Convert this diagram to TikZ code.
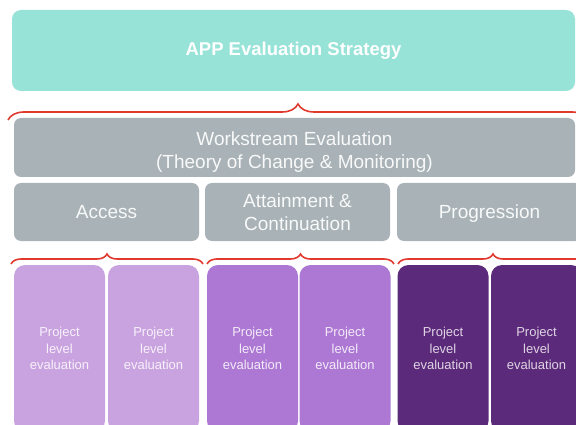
\documentclass[tikz,border=0pt]{standalone}
\usepackage{fontspec}
\setsansfont{Liberation Sans}
\usetikzlibrary{decorations.pathreplacing}

\definecolor{stratteal}{HTML}{98E3D7}
\definecolor{wsgray}{HTML}{A9B2B7}
\definecolor{lightplum}{HTML}{C9A3DF}
\definecolor{midplum}{HTML}{AC78D3}
\definecolor{darkplum}{HTML}{5C2A7A}
\definecolor{bracered}{HTML}{E2392E}

\begin{document}
\begin{tikzpicture}[x=1pt,y=-1pt,
                    every node/.style={inner sep=0pt,align=center,text=white},
                    strat box/.style={fill=stratteal,rounded corners=9pt,minimum width=563pt,minimum height=81pt,
                                      font=\sffamily\bfseries\fontsize{18.5}{22}\selectfont},
                    ws box/.style={fill=wsgray,rounded corners=7pt,minimum height=58pt,
                                   font=\sffamily\fontsize{19}{23}\selectfont,text=white!92!wsgray},
                    proj box/.style={rounded corners=11pt,minimum width=91pt,minimum height=167pt,
                                     font=\sffamily\fontsize{13}{16.5}\selectfont},
                    red brace/.style={decorate,decoration={brace,amplitude=#1},draw=bracered,line width=1.6pt}]
  \useasboundingbox (0,0) rectangle (576,425);
  \node[strat box] (strat) at (293.5,50.5) {APP Evaluation Strategy};
  \node[ws box,minimum width=561pt,minimum height=59pt] (ws) at (294.5,147.5) {\rule{0pt}{22pt}Workstream Evaluation\\(Theory of Change \& Monitoring)};
  \node[ws box,minimum width=185pt,text height=13.6pt,text depth=0pt] (access) at (106.5,212) {Access};
  \node[ws box,minimum width=185pt] (attain) at (297.5,212) {Attainment \&\\Continuation};
  \node[ws box,minimum width=185pt,text height=13.6pt,text depth=0pt] (prog) at (489.5,212) {Progression};
  % project level boxes
  \node[proj box,fill=lightplum,text=white!85!lightplum] (p1) at (59.5,348.5) {Project\\level\\evaluation};
  \node[proj box,fill=lightplum,text=white!85!lightplum] (p2) at (153.5,348.5) {Project\\level\\evaluation};
  \node[proj box,fill=midplum,text=white!85!midplum] (p3) at (252.5,348.5) {Project\\level\\evaluation};
  \node[proj box,fill=midplum,text=white!85!midplum] (p4) at (345,348.5) {Project\\level\\evaluation};
  \node[proj box,fill=darkplum,text=white!80!darkplum] (p5) at (443,348.5) {Project\\level\\evaluation};
  \node[proj box,fill=darkplum,text=white!80!darkplum] (p6) at (536.5,348.5) {Project\\level\\evaluation};
  % braces
  \draw[red brace=16pt] (8,120) -- (588,120);
  \draw[red brace=10pt] (11,264) -- (203,264);
  \draw[red brace=10pt] (207,264) -- (394,264);
  \draw[red brace=10pt] (398,264) -- (588,264);
\end{tikzpicture}
\end{document}
